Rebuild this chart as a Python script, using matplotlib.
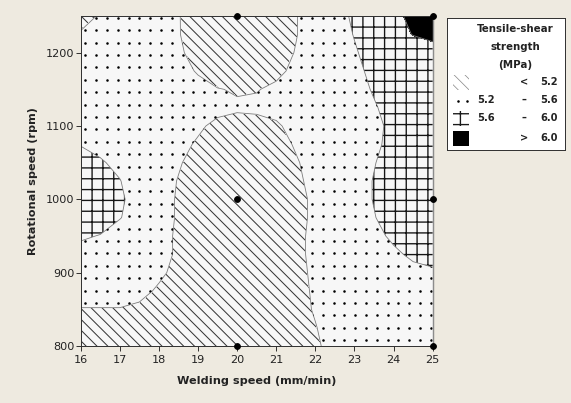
import numpy as np
import matplotlib
matplotlib.use("Agg")
import matplotlib.pyplot as plt
from matplotlib.patches import Rectangle

# ---------------- data ----------------
welding_speed = [16, 16.5, 17, 17.5, 18, 18.5, 19, 19.5, 20, 20.5,
                 21, 21.5, 22, 22.5, 23, 23.5, 24, 24.5, 25]          # mm/min
rotational_speed = [800, 825, 850, 875, 900, 925, 950, 975, 1000, 1025,
                    1050, 1075, 1100, 1125, 1150, 1175, 1200, 1225, 1250]  # rpm

# estimated tensile-shear strength (MPa), one row per rotational speed
strength = [
    [4.98, 4.98, 4.97, 4.96, 4.95, 4.93, 4.92, 4.91, 4.90, 4.93, 4.98, 5.07, 5.17, 5.27, 5.35, 5.38, 5.38, 5.38, 5.38],  # 800
    [5.08, 5.08, 5.07, 5.05, 5.02, 4.98, 4.95, 4.93, 4.92, 4.95, 5.00, 5.10, 5.19, 5.30, 5.37, 5.40, 5.40, 5.40, 5.40],  # 825
    [5.19, 5.19, 5.19, 5.16, 5.10, 5.03, 4.98, 4.95, 4.93, 4.95, 5.02, 5.12, 5.22, 5.32, 5.38, 5.40, 5.40, 5.42, 5.42],  # 850
    [5.30, 5.30, 5.30, 5.26, 5.17, 5.07, 5.00, 4.95, 4.93, 4.96, 5.03, 5.13, 5.23, 5.33, 5.40, 5.42, 5.42, 5.45, 5.48],  # 875
    [5.42, 5.42, 5.42, 5.34, 5.24, 5.14, 5.05, 4.97, 4.93, 4.97, 5.04, 5.14, 5.24, 5.34, 5.40, 5.42, 5.46, 5.54, 5.57],  # 900
    [5.52, 5.50, 5.45, 5.42, 5.27, 5.17, 5.07, 4.98, 4.93, 4.97, 5.05, 5.15, 5.25, 5.35, 5.40, 5.46, 5.56, 5.64, 5.67],  # 925
    [5.63, 5.59, 5.50, 5.45, 5.27, 5.17, 5.07, 4.98, 4.92, 4.96, 5.05, 5.15, 5.25, 5.35, 5.44, 5.54, 5.64, 5.74, 5.77],  # 950
    [5.80, 5.71, 5.61, 5.50, 5.28, 5.18, 5.08, 4.98, 4.90, 4.95, 5.04, 5.14, 5.24, 5.36, 5.49, 5.59, 5.69, 5.78, 5.82],  # 975
    [5.85, 5.73, 5.63, 5.52, 5.28, 5.18, 5.08, 4.98, 4.90, 4.95, 5.04, 5.14, 5.24, 5.37, 5.51, 5.61, 5.71, 5.80, 5.85],  # 1000
    [5.80, 5.70, 5.61, 5.45, 5.29, 5.19, 5.09, 4.99, 4.92, 4.96, 5.06, 5.16, 5.26, 5.38, 5.51, 5.61, 5.71, 5.80, 5.85],  # 1025
    [5.69, 5.63, 5.53, 5.42, 5.32, 5.22, 5.12, 5.02, 4.95, 4.98, 5.08, 5.18, 5.28, 5.38, 5.49, 5.59, 5.69, 5.78, 5.85],  # 1050
    [5.59, 5.52, 5.42, 5.45, 5.37, 5.27, 5.17, 5.07, 4.97, 5.02, 5.12, 5.22, 5.32, 5.42, 5.46, 5.56, 5.66, 5.76, 5.80],  # 1075
    [5.49, 5.42, 5.45, 5.45, 5.44, 5.34, 5.24, 5.14, 5.12, 5.13, 5.17, 5.27, 5.37, 5.45, 5.45, 5.55, 5.65, 5.75, 5.80],  # 1100
    [5.40, 5.42, 5.45, 5.45, 5.45, 5.42, 5.35, 5.27, 5.23, 5.24, 5.27, 5.40, 5.45, 5.38, 5.48, 5.58, 5.68, 5.78, 5.80],  # 1125
    [5.40, 5.45, 5.45, 5.45, 5.40, 5.35, 5.27, 5.21, 5.18, 5.19, 5.24, 5.36, 5.45, 5.42, 5.52, 5.62, 5.72, 5.80, 5.80],  # 1150
    [5.35, 5.45, 5.45, 5.45, 5.38, 5.28, 5.18, 5.08, 5.06, 5.10, 5.15, 5.25, 5.35, 5.45, 5.55, 5.65, 5.75, 5.80, 5.80],  # 1175
    [5.30, 5.40, 5.45, 5.43, 5.33, 5.23, 5.13, 5.03, 4.93, 5.01, 5.11, 5.21, 5.31, 5.48, 5.58, 5.68, 5.78, 5.85, 5.85],  # 1200
    [5.22, 5.30, 5.40, 5.39, 5.31, 5.21, 5.11, 5.01, 4.91, 5.00, 5.10, 5.19, 5.30, 5.50, 5.61, 5.70, 5.90, 6.01, 6.10],  # 1225
    [5.12, 5.22, 5.32, 5.40, 5.30, 5.21, 5.10, 5.00, 4.90, 5.00, 5.10, 5.19, 5.30, 5.53, 5.63, 5.73, 5.94, 6.06, 6.14],  # 1250
]

# design points shown as black dots
point_speed = [20, 25, 20, 25, 20, 25]
point_rpm = [1250, 1250, 1000, 1000, 800, 800]

contour_levels = [5.2, 5.6, 6.0]
x_ticks = [16, 17, 18, 19, 20, 21, 22, 23, 24, 25]
y_ticks = [800, 900, 1000, 1100, 1200]
legend_title = ["Tensile-shear", "strength", "(MPa)"]
legend_rows = [("", "<", "5.2"), ("5.2", "\u2013", "5.6"), ("5.6", "\u2013", "6.0"), ("", ">", "6.0")]

# ---------------- figure ----------------
DPI = 65
W, H = 571, 403
plt.rcParams["font.family"] = ["DejaVu Sans"]
fig = plt.figure(figsize=(W / DPI, H / DPI), dpi=DPI, facecolor="#eeeae0")

ax_l, ax_r, ax_t, ax_b = 80.7, 432.7, 16.0, 346.0
ax = fig.add_axes([ax_l / W, (H - ax_b) / H, (ax_r - ax_l) / W, (ax_b - ax_t) / H])
face = "#f7f7f7"
ax.set_facecolor(face)

X, Y = np.meshgrid(welding_speed, rotational_speed)
Z = np.array(strength)
lo, hi = Z.min() - 1, Z.max() + 1

# < 5.2 : diagonal hatch
with plt.rc_context({"hatch.color": "#333333", "hatch.linewidth": 1.1}):
    ax.contourf(X, Y, Z, levels=[lo, contour_levels[0]], colors=[face], hatches=["\\\\"])
# 5.2 - 5.6 : dotted (dots clipped to region)
cs_b = ax.contourf(X, Y, Z, levels=[contour_levels[0], contour_levels[1]], colors=[face])
# 5.6 - 6.0 : crosshatch
with plt.rc_context({"hatch.color": "#151515", "hatch.linewidth": 1.5}):
    ax.contourf(X, Y, Z, levels=[contour_levels[1], contour_levels[2]], colors=[face], hatches=["+"])
# > 6.0 : solid black
ax.contourf(X, Y, Z, levels=[contour_levels[2], hi], colors=["black"])
ax.contour(X, Y, Z, levels=contour_levels, colors="#7a7a7a", linewidths=0.9)

# dot pattern for the 5.2-5.6 band
gx, gy = np.meshgrid(np.arange(16.12, 25.0, 0.276), np.arange(808, 1250, 16.9))
dots = ax.scatter(gx.ravel(), gy.ravel(), s=8, c="#000000", marker="o", linewidths=0, zorder=2)
dots.set_clip_path(cs_b.get_paths()[0], transform=ax.transData)

ax.scatter(point_speed, point_rpm, s=42, c="black", zorder=10, clip_on=False)

ax.set_xlim(16, 25)
ax.set_ylim(800, 1250)
ax.set_xticks(x_ticks)
ax.set_yticks(y_ticks)
ax.tick_params(direction="out", length=5, width=1.0, labelsize=12.5, colors="#222222", pad=2)
ax.tick_params(axis="x", pad=5)
for sp in ax.spines.values():
    sp.set_color("#333333")
    sp.set_linewidth(1.1)
ax.spines["right"].set_color("#8c8c8c")
ax.spines["right"].set_linewidth(1.6)
ax.set_xlabel("Welding speed (mm/min)", fontsize=12.5, fontweight="bold", color="#222222")
ax.set_ylabel("Rotational speed (rpm)", fontsize=12.5, fontweight="bold", color="#222222")
ax.xaxis.set_label_coords(0.5, -(376 - ax_b) / (ax_b - ax_t))
ax.yaxis.set_label_coords(-(ax_l - 38) / (ax_r - ax_l), 0.5)

# ---------------- legend box ----------------
lx0, lx1, ly0, ly1 = 446.7, 565.0, 18.0, 150.0
lax = fig.add_axes([lx0 / W, (H - ly1) / H, (lx1 - lx0) / W, (ly1 - ly0) / H])
lax.set_xlim(lx0, lx1)
lax.set_ylim(ly1, ly0)
lax.set_xticks([])
lax.set_yticks([])
lax.set_facecolor("white")
for sp in lax.spines.values():
    sp.set_color("#333333")
    sp.set_linewidth(1.1)

for i, t in enumerate(legend_title):
    lax.text(515, 29 + i * 18, t, ha="center", va="center", fontsize=11.3,
             fontweight="bold", color="#222222")

row_y = [82, 100, 118, 138]
sw_x, sw_w, sw_h = 453, 16, 15
with plt.rc_context({"hatch.linewidth": 0.8}):
    lax.add_patch(Rectangle((sw_x, row_y[0] - 7.5), sw_w, sw_h, facecolor="white",
                            edgecolor="#888888", linewidth=0, hatch="\\\\"))
lax.scatter([458, 467], [row_y[1] + 1, row_y[1] + 1], s=8, c="#000000", marker="o", linewidths=0)
with plt.rc_context({"hatch.linewidth": 1.5}):
    lax.add_patch(Rectangle((sw_x, row_y[2] - 7.5), sw_w, sw_h, facecolor="white",
                            edgecolor="#1a1a1a", linewidth=0, hatch="+"))
lax.add_patch(Rectangle((sw_x, row_y[3] - 7.5), sw_w, sw_h, facecolor="black", linewidth=0))

for y, (a, op, b) in zip(row_y, legend_rows):
    if a:
        lax.text(477, y, a, ha="left", va="center", fontsize=11, fontweight="bold", color="#222222")
    lax.text(524, y, op, ha="center", va="center", fontsize=11, fontweight="bold", color="#222222")
    lax.text(540, y, b, ha="left", va="center", fontsize=11, fontweight="bold", color="#222222")

fig.savefig("out.png", dpi=DPI, facecolor=fig.get_facecolor())
